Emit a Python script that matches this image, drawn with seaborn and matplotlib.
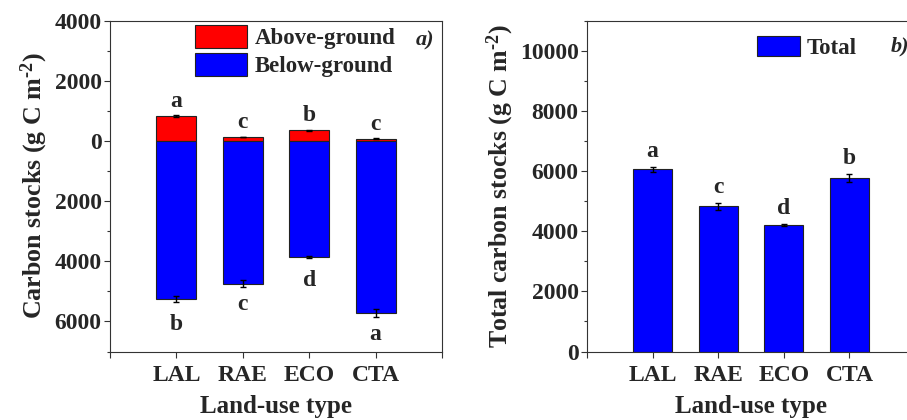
import numpy as np
import pandas as pd
import matplotlib
matplotlib.use("Agg")
import matplotlib.pyplot as plt
from matplotlib.ticker import FuncFormatter, MultipleLocator, FixedLocator
import seaborn as sns

# ---- data ----
land_use = ["LAL", "RAE", "ECO", "CTA"]
above_ground = [830, 130, 350, 75]
above_err = [30, 12, 25, 10]
below_ground = [5270, 4745, 3867, 5720]
below_err = [100, 110, 30, 130]
above_letters = ["a", "c", "b", "c"]
below_letters = ["b", "c", "d", "a"]
total = [6054, 4823, 4200, 5760]
total_err = [75, 115, 30, 140]
total_letters = ["a", "c", "d", "b"]

sns.set_style("ticks")
plt.rcParams['font.family'] = ['Liberation Serif', 'DejaVu Serif']
plt.rcParams['font.weight'] = 'bold'
plt.rcParams['axes.labelweight'] = 'bold'
plt.rcParams['mathtext.fontset'] = 'custom'
plt.rcParams['mathtext.rm'] = 'Liberation Serif:bold'
plt.rcParams['mathtext.bf'] = 'Liberation Serif:bold'
plt.rcParams['mathtext.it'] = 'Liberation Serif:bold:italic'
plt.rcParams['mathtext.default'] = 'rm'

RED = "#ff0000"
BLUE = "#0000ff"
EDGE = "#222222"
SPINE = "#333333"

df_a = pd.DataFrame({"type": land_use, "val": above_ground})
df_b = pd.DataFrame({"type": land_use, "val": [-v for v in below_ground]})
df_t = pd.DataFrame({"type": land_use, "val": total})

fig = plt.figure(figsize=(9.07, 4.20), dpi=100)
W, H = 907, 420
bottom_px, top_px = 351.5, 20.7
axL = fig.add_axes([110 / W, 1 - bottom_px / H, 332 / W, (bottom_px - top_px) / H])
axR = fig.add_axes([587 / W, 1 - bottom_px / H, 328 / W, (bottom_px - top_px) / H])

# ---- left panel ----
sns.barplot(data=df_a, x="type", y="val", order=land_use, color=RED, saturation=1,
            width=0.6, edgecolor=EDGE, linewidth=0.8, errorbar=None, ax=axL)
sns.barplot(data=df_b, x="type", y="val", order=land_use, color=BLUE, saturation=1,
            width=0.6, edgecolor=EDGE, linewidth=0.8, errorbar=None, ax=axL)
pos = np.arange(len(land_use))
axL.errorbar(pos, above_ground, yerr=above_err, fmt="none", ecolor="black",
             elinewidth=1, capsize=2.5, capthick=1)
axL.errorbar(pos, [-v for v in below_ground], yerr=below_err, fmt="none", ecolor="black",
             elinewidth=1, capsize=2.5, capthick=1)
for i in range(len(land_use)):
    axL.annotate(above_letters[i], (i, above_ground[i] + above_err[i]), xytext=(0, 6),
                 textcoords="offset points", ha="center", va="baseline",
                 fontsize=17, fontweight="bold")
    off = 20 if below_letters[i] in "bdfhklt" else 16.5
    axL.annotate(below_letters[i], (i, -(below_ground[i] + below_err[i])), xytext=(0, -off),
                 textcoords="offset points", ha="center", va="baseline",
                 fontsize=17, fontweight="bold")

axL.set_ylim(-7000, 4000)
axL.set_xlim(-1, 4)
axL.yaxis.set_major_locator(FixedLocator([4000, 2000, 0, -2000, -4000, -6000]))
axL.yaxis.set_minor_locator(MultipleLocator(1000))
axL.yaxis.set_major_formatter(FuncFormatter(lambda v, p: f"{abs(v):.0f}"))
axL.set_ylabel(r"Carbon stocks (g C m$^{\text{-2}}$)", fontsize=18.7, fontweight="bold", labelpad=3)
axL.set_xlabel("Land-use type", fontsize=18, fontweight="bold", labelpad=6)
leg = axL.legend(handles=[axL.containers[0], axL.containers[1]],
                 labels=["Above-ground", "Below-ground"],
                 loc="upper left", bbox_to_anchor=(0.256, 0.988), frameon=False,
                 borderpad=0, borderaxespad=0, handlelength=2.26, handleheight=1.2,
                 labelspacing=0.15, handletextpad=0.35,
                 prop={"family": "Liberation Serif", "weight": "bold", "size": 16.5})
axL.text(0.949, 0.94, "a)", transform=axL.transAxes, ha="center", va="center",
         fontsize=16, fontweight="bold", fontstyle="italic")

# ---- right panel ----
sns.barplot(data=df_t, x="type", y="val", order=land_use, color=BLUE, saturation=1,
            width=0.6, edgecolor=EDGE, linewidth=0.8, errorbar=None, ax=axR)
axR.errorbar(pos, total, yerr=total_err, fmt="none", ecolor="black",
             elinewidth=1, capsize=2.5, capthick=1)
for i in range(len(land_use)):
    axR.annotate(total_letters[i], (i, total[i] + total_err[i]), xytext=(0, 7.5),
                 textcoords="offset points", ha="center", va="baseline",
                 fontsize=17, fontweight="bold")
axR.set_ylim(0, 11000)
axR.set_xlim(-1, 4)
axR.yaxis.set_major_locator(FixedLocator([0, 2000, 4000, 6000, 8000, 10000]))
axR.yaxis.set_minor_locator(MultipleLocator(1000))
axR.set_ylabel(r"Total carbon stocks (g C m$^{\text{-2}}$)", fontsize=18.6, fontweight="bold", labelpad=3)
axR.set_xlabel("Land-use type", fontsize=18, fontweight="bold", labelpad=6)
axR.legend(handles=[axR.containers[0]], labels=["Total"],
           loc="upper left", bbox_to_anchor=(0.517, 0.954), frameon=False,
           borderpad=0, borderaxespad=0, handlelength=1.9, handleheight=0.95,
           handletextpad=0.27,
           prop={"family": "Liberation Serif", "weight": "bold", "size": 16.5})
axR.text(0.954, 0.923, "b)", transform=axR.transAxes, ha="center", va="center",
         fontsize=16, fontweight="bold", fontstyle="italic")

for ax in (axL, axR):
    ax.set_xticks([-1, 0, 1, 2, 3, 4])
    ax.set_xticklabels([""] + land_use + [""])
    ax.tick_params(axis="x", which="major", direction="out", length=4, width=0.8,
                   labelsize=17, color=SPINE, pad=6)
    ax.tick_params(axis="y", which="major", direction="out", length=4, width=0.8,
                   labelsize=17, color=SPINE, pad=2)
    ax.tick_params(axis="y", which="minor", direction="out", length=2.5, width=0.8,
                   color=SPINE)
    for lab in ax.get_xticklabels() + ax.get_yticklabels():
        lab.set_fontweight("bold")
    for s in ax.spines.values():
        s.set_visible(True)
        s.set_color(SPINE)
        s.set_linewidth(0.8)
    ax.set_facecolor("white")

fig.savefig("out.png", dpi=100, facecolor="white")
